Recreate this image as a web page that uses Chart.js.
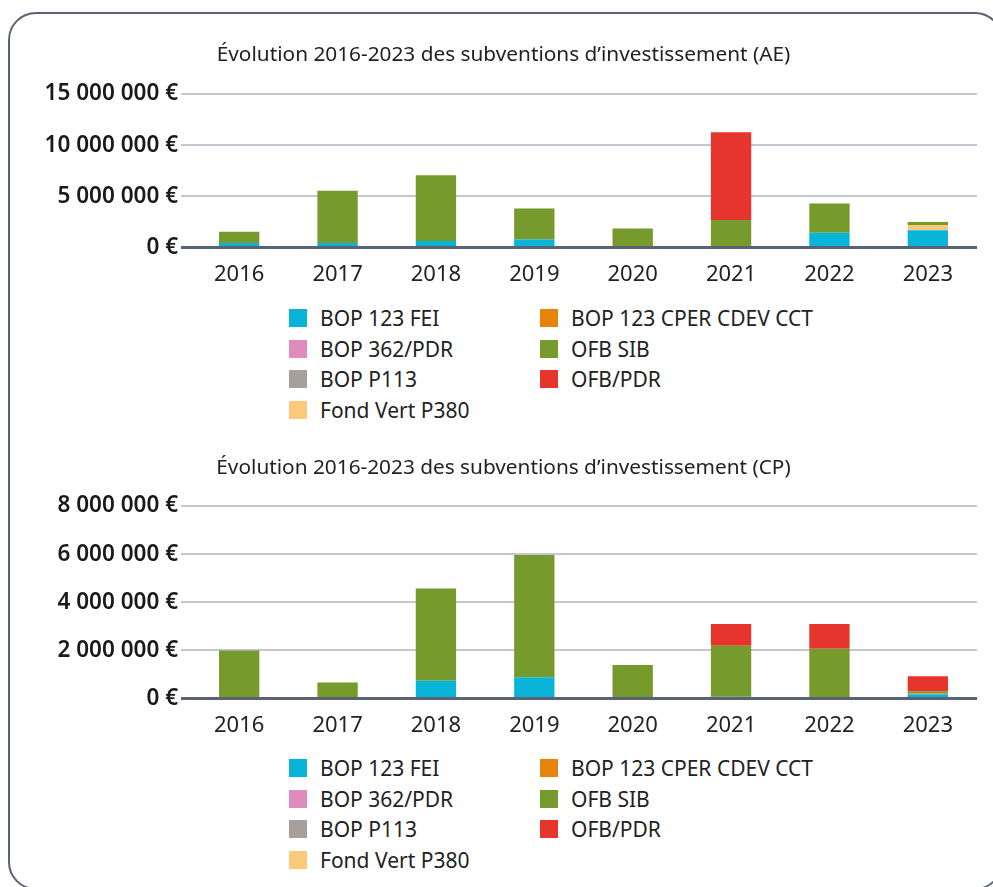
<!DOCTYPE html>
<html><head><meta charset="utf-8">
<script src="https://cdn.jsdelivr.net/npm/chart.js@4.4.1/dist/chart.umd.min.js"></script>
<style>
html,body{margin:0;padding:0;background:#fff;width:993px;height:887px;overflow:hidden;font-family:"Noto Sans",sans-serif;}
#frame{position:absolute;left:8px;top:12px;width:995px;height:878px;border:2.5px solid #5b6274;border-radius:28px;box-sizing:border-box;}
.wrap{position:absolute;left:0;width:993px;}
.legend{position:absolute;left:289px;display:grid;grid-template-columns:251px 320px;font-size:21px;color:#222;}
.legend div{display:flex;align-items:center;height:30.7px;white-space:nowrap;}
.legend span.sw{display:inline-block;width:18px;height:18px;margin-right:13px;flex:none;}
</style></head>
<body>
<div id="frame"></div>
<div class="wrap" style="top:35px;height:259px"><canvas id="c1"></canvas></div>
<div class="legend" id="l1" style="top:302.5px"></div>
<div class="wrap" style="top:448px;height:297px"><canvas id="c2"></canvas></div>
<div class="legend" id="l2" style="top:752.5px"></div>
<script>
const years = ["2016","2017","2018","2019","2020","2021","2022","2023"];
const seriesNames = ["BOP 123 FEI","BOP 362/PDR","BOP P113","Fond Vert P380","BOP 123 CPER CDEV CCT","OFB SIB","OFB/PDR"];
const seriesColors = ["#08b5d9","#df8bbd","#a79f99","#fcc97a","#e8830a","#769a2c","#e5352c"];

// AE (autorisations d'engagement), euros
const ae_fei      = [450000, 450000, 650000, 800000, 0, 0, 1450000, 1700000];
const ae_pdr362   = [0, 0, 0, 0, 0, 0, 0, 0];
const ae_p113     = [0, 0, 0, 0, 0, 0, 0, 0];
const ae_fondvert = [0, 0, 0, 0, 0, 0, 0, 500000];
const ae_cper     = [0, 0, 0, 0, 0, 0, 0, 0];
const ae_sib      = [1100000, 5100000, 6420000, 3010000, 1870000, 2700000, 2850000, 300000];
const ae_ofbpdr   = [0, 0, 0, 0, 0, 8570000, 0, 0];

// CP (crédits de paiement), euros
const cp_fei      = [0, 0, 740000, 890000, 0, 80000, 70000, 180000];
const cp_pdr362   = [0, 0, 0, 0, 0, 0, 0, 0];
const cp_p113     = [0, 0, 0, 0, 0, 0, 0, 0];
const cp_fondvert = [0, 0, 0, 0, 0, 0, 0, 0];
const cp_cper     = [0, 0, 0, 0, 0, 0, 0, 30000];
const cp_sib      = [2000000, 670000, 3830000, 5080000, 1400000, 2120000, 2000000, 80000];
const cp_ofbpdr   = [0, 0, 0, 0, 0, 900000, 1030000, 640000];

const titleAE = "Évolution 2016-2023 des subventions d’investissement (AE)";
const titleCP = "Évolution 2016-2023 des subventions d’investissement (CP)";
const aeTicks = {max:15000000, step:5000000};
const cpTicks = {max:8000000, step:2000000};

const FONT = "'Noto Sans', sans-serif";
function fmt(v){ return String(Math.round(v)).replace(/\B(?=(\d{3})+(?!\d))/g," ") + " €"; }

function makeChart(id, title, arrays, tk, titleBottom){
  const datasets = arrays.map((d,i)=>({label:seriesNames[i],data:d,backgroundColor:seriesColors[i],borderWidth:0,categoryPercentage:1,barPercentage:0.41}));
  return new Chart(document.getElementById(id),{
    type:'bar',
    data:{labels:years,datasets},
    options:{
      responsive:true,maintainAspectRatio:false,animation:false,
      layout:{padding:{left:30,right:16,top:0,bottom:0}},
      plugins:{
        legend:{display:false},tooltip:{enabled:false},
        title:{display:true,text:title,color:'#222',font:{family:FONT,size:20.8,weight:'normal',lineHeight:1.2},padding:{top:8,bottom:titleBottom}}
      },
      scales:{
        x:{stacked:true,grid:{display:false},border:{display:false},
           ticks:{color:'#222',font:{family:FONT,size:22,lineHeight:1.2},padding:6}},
        y:{stacked:true,min:0,max:tk.max,
           afterFit:(s)=>{s.width=160;},
           border:{display:false},
           grid:{color:(c)=>c.tick&&c.tick.value===0?'#5b6274':'#c4c7d1',
                 lineWidth:(c)=>c.tick&&c.tick.value===0?3:2,tickLength:9},
           ticks:{stepSize:tk.step,color:'#1a1a1a',padding:3,font:{family:FONT,size:22.5,weight:'600',lineHeight:1.2},callback:(v)=>fmt(v)}}
      }
    }
  });
}
function makeLegend(id){
  const el=document.getElementById(id);
  const order=[0,4,1,5,2,6,3];
  order.forEach(i=>{
    const d=document.createElement('div');
    d.innerHTML='<span class="sw" style="background:'+seriesColors[i]+'"></span>'+seriesNames[i];
    el.appendChild(d);
  });
}
makeChart('c1',titleAE,[ae_fei,ae_pdr362,ae_p113,ae_fondvert,ae_cper,ae_sib,ae_ofbpdr],aeTicks,26.1);
makeChart('c2',titleCP,[cp_fei,cp_pdr362,cp_p113,cp_fondvert,cp_cper,cp_sib,cp_ofbpdr],cpTicks,25.1);
makeLegend('l1');makeLegend('l2');
</script>
</body></html>
